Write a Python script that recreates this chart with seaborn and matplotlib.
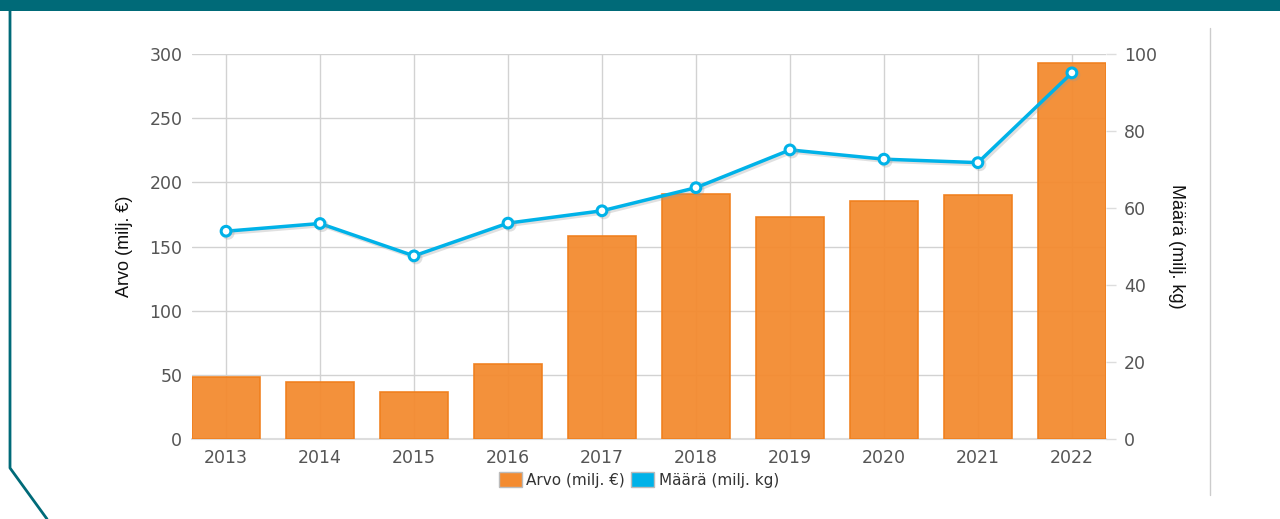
import numpy as np
import pandas as pd
import matplotlib
matplotlib.use("Agg")
import matplotlib.pyplot as plt
import matplotlib.patheffects as pe
from matplotlib.patches import Patch
from matplotlib.lines import Line2D
import seaborn as sns

# data
years = ["2013", "2014", "2015", "2016", "2017", "2018", "2019", "2020", "2021", "2022"]
arvo = [48.2, 44.4, 37.0, 58.8, 158.2, 191.1, 172.8, 185.7, 189.9, 292.6]    # milj. €
maara = [54.0, 56.0, 47.6, 56.1, 59.3, 65.3, 75.1, 72.7, 71.8, 95.1]         # milj. kg

BAR = "#f38b30"
LINE = "#00b2e8"
GRID = "#d2d2d2"
TICK = "#555555"

sns.set_theme(style="white")
plt.rcParams["font.family"] = ["DejaVu Sans"]

df = pd.DataFrame({"vuosi": years, "arvo": arvo, "maara": maara})
df["pos"] = np.arange(len(df))

fig = plt.figure(figsize=(12.8, 5.19), dpi=100)
ax = fig.add_axes([0.15, 0.1536, 0.714, 0.7424])

sns.barplot(data=df, x="vuosi", y="arvo", color=BAR, width=0.72, saturation=1,
            edgecolor="#f07f1c", linewidth=1.2, alpha=0.95, ax=ax, zorder=3)
ax.set_xlim(-0.362, 9.362)
ax.set_ylim(0, 300)
ax.set_yticks(np.arange(0, 301, 50))
ax.grid(True, color=GRID, linewidth=1, zorder=0)
ax.set_axisbelow(True)
for s in ["top", "right", "left"]:
    ax.spines[s].set_visible(False)
ax.spines["bottom"].set_color("#dddddd")
ax.spines["bottom"].set_linewidth(1.5)
ax.tick_params(axis="both", length=0, labelsize=12.5, labelcolor=TICK, pad=7)
ax.set_xlabel("")
ax.set_ylabel("Arvo (milj. €)", fontsize=13, family="Liberation Sans", color="#111111", labelpad=12)

ax2 = ax.twinx()
sns.lineplot(data=df, x="pos", y="maara", color=LINE, linewidth=2.5, marker="o",
             markersize=7, markerfacecolor="white", markeredgecolor=LINE,
             markeredgewidth=2.2, ax=ax2, zorder=5,
             path_effects=[pe.SimpleLineShadow(offset=(1.5, -1.5), shadow_color="#999999", alpha=0.3),
                           pe.Normal()])
ax2.set_ylim(0, 100)
ax2.set_yticks(np.arange(0, 101, 20))
ax2.set_xlim(-0.362, 9.362)
for s in ["top", "right", "left", "bottom"]:
    ax2.spines[s].set_visible(False)
ax2.tick_params(axis="y", length=7, width=1, color="#dddddd", labelsize=12.5, labelcolor=TICK, pad=6)
ax2.set_xlabel("")
ax2.set_ylabel("Määrä (milj. kg)", fontsize=13, family="Liberation Sans", color="#111111",
               rotation=270, labelpad=20)

handles = [Patch(facecolor=BAR, edgecolor="#bbbbbb", linewidth=1),
           Patch(facecolor=LINE, edgecolor="#bbbbbb", linewidth=1)]
fig.legend(handles, ["Arvo (milj. €)", "Määrä (milj. kg)"], loc="center",
           bbox_to_anchor=(0.499, 0.075), ncol=2, frameon=False, fontsize=11,
           handlelength=1.5, handleheight=1.1, handletextpad=0.3, columnspacing=0.4,
           labelcolor="#333333")

# page decorations: teal header band, left border with diagonal, right divider
fig.add_artist(plt.Rectangle((0, 1 - 11 / 519), 1, 11 / 519, transform=fig.transFigure,
                             facecolor="#006a78", edgecolor="none"))
fig.add_artist(Line2D([10 / 1280, 10 / 1280, 47 / 1280], [1, 1 - 468 / 519, 0],
                      transform=fig.transFigure, color="#006a78", linewidth=2))
fig.add_artist(Line2D([1210 / 1280, 1210 / 1280], [1 - 28 / 519, 1 - 495 / 519],
                      transform=fig.transFigure, color="#cccccc", linewidth=1))

fig.savefig("out.png", dpi=100)
